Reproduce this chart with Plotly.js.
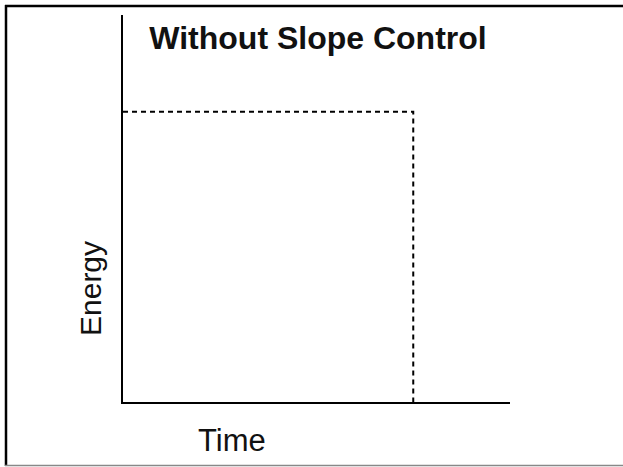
<!DOCTYPE html>
<html>
<head>
<meta charset="utf-8">
<script src="https://cdn.plot.ly/plotly-3.0.1.min.js"></script>
<style>html,body{margin:0;padding:0;background:#fff;}#chart{width:623px;height:467px;}</style>
</head>
<body>
<div id="chart"></div>
<script>
// Data
var time = [0, 0.75, 0.75];
var energy = [0.75, 0.75, 0];
var chartTitle = "Without Slope Control";
var xLabel = "Time";
var yLabel = "Energy";

var W = 623, H = 467;
var L = 123, R = 113, T = 15, B = 65;
var pw = W - L - R, ph = H - T - B;
function px(x){ return (x - L) / pw; }
function py(y){ return (H - B - y) / ph; }

var trace = {
  x: time, y: energy, type: 'scatter', mode: 'lines',
  line: {color: '#000', width: 2, dash: '5px,4px'},
  hoverinfo: 'skip', showlegend: false, cliponaxis: false
};

var layout = {
  width: W, height: H,
  margin: {l: L, r: R, t: T, b: B, pad: 0},
  paper_bgcolor: '#fff', plot_bgcolor: '#fff',
  showlegend: false,
  title: {
    text: '<b>' + chartTitle + '</b>',
    font: {family: 'Liberation Sans, Arial, sans-serif', size: 32, color: '#111'},
    xref: 'paper', x: px(318), xanchor: 'center',
    yref: 'container', y: 1 - 38/H, yanchor: 'middle'
  },
  xaxis: {range: [0, 1], showline: true, linecolor: '#000', linewidth: 2,
          showgrid: false, zeroline: false, showticklabels: false, ticks: '', fixedrange: true},
  yaxis: {range: [0, 1], showline: true, linecolor: '#000', linewidth: 2,
          showgrid: false, zeroline: false, showticklabels: false, ticks: '', fixedrange: true},
  annotations: [
    {text: xLabel, xref: 'paper', yref: 'paper', x: px(232), y: py(440),
     xanchor: 'center', yanchor: 'middle', showarrow: false,
     font: {family: 'Liberation Sans, Arial, sans-serif', size: 31, color: '#111'}},
    {text: yLabel, xref: 'paper', yref: 'paper', x: px(90), y: py(289),
     xanchor: 'center', yanchor: 'middle', showarrow: false, textangle: -90,
     font: {family: 'Liberation Sans, Arial, sans-serif', size: 30, color: '#111'}}
  ],
  shapes: [
    {type: 'line', xref: 'paper', yref: 'paper', x0: px(5), x1: px(623), y0: py(6), y1: py(6),
     line: {color: '#000', width: 2.5}},
    {type: 'line', xref: 'paper', yref: 'paper', x0: px(6), x1: px(6), y0: py(5), y1: py(466),
     line: {color: '#000', width: 2.5}},
    {type: 'line', xref: 'paper', yref: 'paper', x0: px(5), x1: px(623), y0: py(465.5), y1: py(465.5),
     line: {color: '#888', width: 1.5}}
  ]
};

Plotly.newPlot('chart', [trace], layout, {displayModeBar: false, staticPlot: true});
</script>
</body>
</html>
